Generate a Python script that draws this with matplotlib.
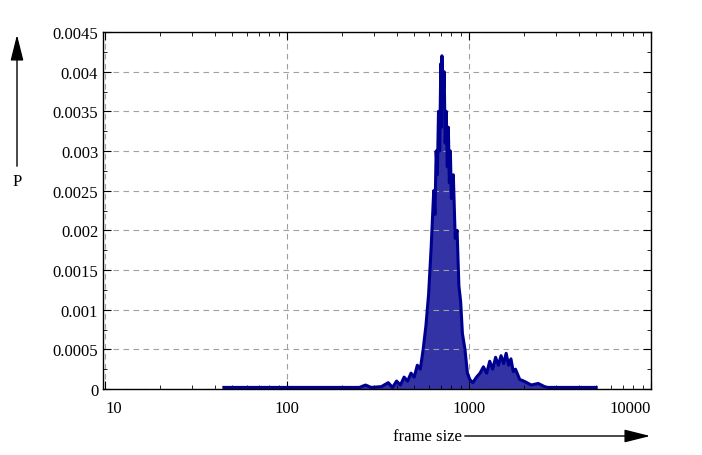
import matplotlib.pyplot as plt
from matplotlib.ticker import FixedLocator, NullFormatter, LogLocator

plt.rcParams['font.family'] = ['Liberation Serif', 'DejaVu Serif']

# frame size vs probability
sizes = [45, 250, 270, 290, 330, 360, 380, 400, 420, 440, 460, 480, 500, 520, 540,
         560, 580, 600, 620, 640, 650, 660, 670, 680, 690, 700, 705, 710, 720, 730,
         740, 750, 760, 770, 780, 790, 800, 820, 840, 860, 880, 900, 920, 950, 980,
         1010, 1050, 1100, 1150, 1200, 1250, 1300, 1350, 1400, 1450, 1500, 1550, 1600,
         1650, 1700, 1750, 1800, 1900, 2000, 2200, 2400, 2600, 2700, 5000]
probs = [0.00002, 0.00002, 0.00005, 0.00002, 0.00003, 0.00008, 0.00002, 0.0001, 0.00005,
         0.00015, 0.0001, 0.0002, 0.00015, 0.0003, 0.00025, 0.0005, 0.0008, 0.0012,
         0.0018, 0.0025, 0.0022, 0.003, 0.0027, 0.0035, 0.003, 0.0041, 0.0033, 0.0042,
         0.0036, 0.004, 0.0031, 0.0035, 0.0028, 0.0033, 0.0026, 0.003, 0.0024, 0.0027,
         0.0019, 0.002, 0.0013, 0.0011, 0.0007, 0.0005, 0.0002, 0.00012, 0.00008,
         0.00015, 0.0002, 0.00028, 0.0002, 0.00035, 0.00025, 0.0004, 0.0003, 0.00042,
         0.00032, 0.00045, 0.0003, 0.00038, 0.00022, 0.00025, 0.00012, 0.0001, 0.00005,
         0.00007, 0.00003, 0.00002, 0.00002]

y_ticks = [0, 0.0005, 0.001, 0.0015, 0.002, 0.0025, 0.003, 0.0035, 0.004, 0.0045]
y_labels = ['0', '0.0005', '0.001', '0.0015', '0.002', '0.0025', '0.003', '0.0035', '0.004', '0.0045']
x_ticks = [10, 100, 1000, 10000]
x_labels = ['10', '100', '1000', '10000']

fig = plt.figure(figsize=(7.02, 4.56), dpi=100)
ax = fig.add_axes([103 / 702, 1 - 390 / 456, 548 / 702, 357 / 456])

ax.plot(sizes, probs, color='#000090', linewidth=2.2)
ax.fill_between(sizes, probs, 0, color='#000090', alpha=0.8, linewidth=0)

ax.set_xscale('log')
ax.set_xlim(9.75, 10000)
ax.set_ylim(0, 0.0045)
ax.set_xticks(x_ticks)
ax.set_xticklabels(x_labels)
ax.xaxis.set_minor_locator(LogLocator(base=10, subs=range(2, 10)))
ax.xaxis.set_minor_formatter(NullFormatter())
ax.set_yticks(y_ticks)
ax.set_yticklabels(y_labels)
ax.yaxis.set_minor_locator(FixedLocator([t + 0.00025 for t in y_ticks[:-1]]))

ax.grid(True, which='major', color='#a0a0a0', linestyle=(0, (5, 4)), linewidth=0.8)
ax.tick_params(which='both', direction='in', top=True, right=True, labelsize=12)
ax.tick_params(which='major', length=6)
ax.tick_params(which='minor', length=3)
ax.tick_params(axis='x', pad=8)
xl = ax.get_xticklabels()
xl[0].set_ha('left')
xl[-1].set_ha('right')
for s in ax.spines.values():
    s.set_linewidth(1.0)

# gnuplot-style axis arrows
ax.annotate('', xy=(17 / 702, 1 - 33 / 456), xytext=(17 / 702, 1 - 170 / 456),
            xycoords='figure fraction',
            arrowprops=dict(arrowstyle='-|>,head_length=1.6,head_width=0.4', color='black', lw=1))
fig.text(17 / 702, 1 - 182 / 456, 'P', ha='center', va='center', fontsize=12)
ax.annotate('', xy=(653 / 702, 1 - 437 / 456), xytext=(462 / 702, 1 - 437 / 456),
            xycoords='figure fraction',
            arrowprops=dict(arrowstyle='-|>,head_length=1.6,head_width=0.4', color='black', lw=1))
fig.text(462 / 702, 1 - 437 / 456, 'frame size', ha='right', va='center', fontsize=12)

fig.savefig('out.png', dpi=100)
